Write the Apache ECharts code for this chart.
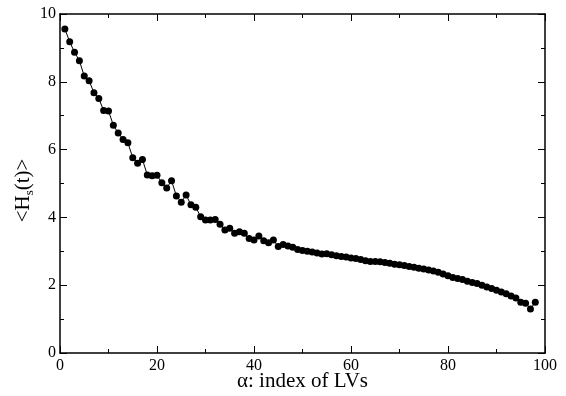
<!DOCTYPE html>
<html>
<head>
<meta charset="utf-8">
<script src="https://cdn.jsdelivr.net/npm/echarts@6/dist/echarts.min.js"></script>
<style>
  html, body { margin: 0; padding: 0; background: #fff; }
  #chart { width: 566px; height: 396px; }
</style>
</head>
<body>
<div id="chart"></div>
<script>
// mean entropy per LV index
const lvIndex = [];
for (let i = 1; i <= 98; i++) lvIndex.push(i);

const meanH = [
  9.56, 9.18, 8.87, 8.62, 8.17, 8.03, 7.68, 7.51, 7.15, 7.14,
  6.72, 6.49, 6.30, 6.20, 5.76, 5.60, 5.71, 5.25, 5.23, 5.24,
  5.02, 4.87, 5.08, 4.63, 4.45, 4.66, 4.37, 4.30, 4.02, 3.92,
  3.92, 3.94, 3.80, 3.63, 3.68, 3.53, 3.58, 3.53, 3.38, 3.33,
  3.45, 3.31, 3.25, 3.33, 3.14, 3.20, 3.16, 3.12, 3.05, 3.02,
  3.00, 2.98, 2.95, 2.92, 2.93, 2.90, 2.87, 2.85, 2.83, 2.80,
  2.79, 2.76, 2.72, 2.70, 2.70, 2.69, 2.67, 2.65, 2.62, 2.60,
  2.58, 2.55, 2.53, 2.50, 2.48, 2.45, 2.42, 2.38, 2.33, 2.28,
  2.23, 2.20, 2.17, 2.12, 2.08, 2.05, 2.00, 1.95, 1.90, 1.85,
  1.80, 1.75, 1.68, 1.62, 1.50, 1.47, 1.30, 1.50
];

const font = 'Liberation Serif';

const chart = echarts.init(document.getElementById('chart'));

function frameAxis(extra) {
  return Object.assign({
    axisLine: { show: true, onZero: false, lineStyle: { color: '#000', width: 1.5 } },
    axisTick: { show: true, inside: true, length: 7, lineStyle: { color: '#000', width: 1 } },
    minorTick: { show: true, splitNumber: 2, length: 4, lineStyle: { color: '#000', width: 1 } },
    splitLine: { show: false },
    minorSplitLine: { show: false }
  }, extra);
}

chart.setOption({
  animation: false,
  backgroundColor: '#fff',
  grid: { left: 60, right: 21, top: 14, bottom: 43, containLabel: false, outerBoundsMode: 'none' },
  xAxis: [
    frameAxis({
      type: 'value', min: 0, max: 100, interval: 20,
      name: 'α: index of LVs',
      nameLocation: 'middle', nameGap: 18, nameMoveOverlap: false,
      nameTextStyle: { fontFamily: font, fontSize: 21, color: '#000' },
      axisLabel: { fontFamily: font, fontSize: 16, color: '#000', margin: 5 }
    }),
    frameAxis({
      type: 'value', min: 0, max: 100, interval: 20, position: 'top',
      axisLabel: { show: false }
    })
  ],
  yAxis: [
    frameAxis({
      type: 'value', min: 0, max: 10, interval: 2,
      name: '<H{s|s}(t)>',
      nameLocation: 'middle', nameGap: 24, nameRotate: 90, nameMoveOverlap: false,
      nameTextStyle: {
        fontFamily: font, fontSize: 21, color: '#000',
        padding: [0, 14, 0, 0],
        rich: { s: { fontFamily: font, fontSize: 13, color: '#000', verticalAlign: 'bottom', padding: [12, 0, 0, 0] } }
      },
      axisLabel: { fontFamily: font, fontSize: 16, color: '#000', margin: 4 }
    }),
    frameAxis({
      type: 'value', min: 0, max: 10, interval: 2, position: 'right',
      axisLabel: { show: false }
    })
  ],
  series: [{
    type: 'line',
    data: lvIndex.map((x, i) => [x, meanH[i]]),
    symbol: 'circle',
    symbolSize: 7,
    itemStyle: { color: '#000' },
    lineStyle: { color: '#000', width: 1 }
  }]
});
</script>
</body>
</html>
